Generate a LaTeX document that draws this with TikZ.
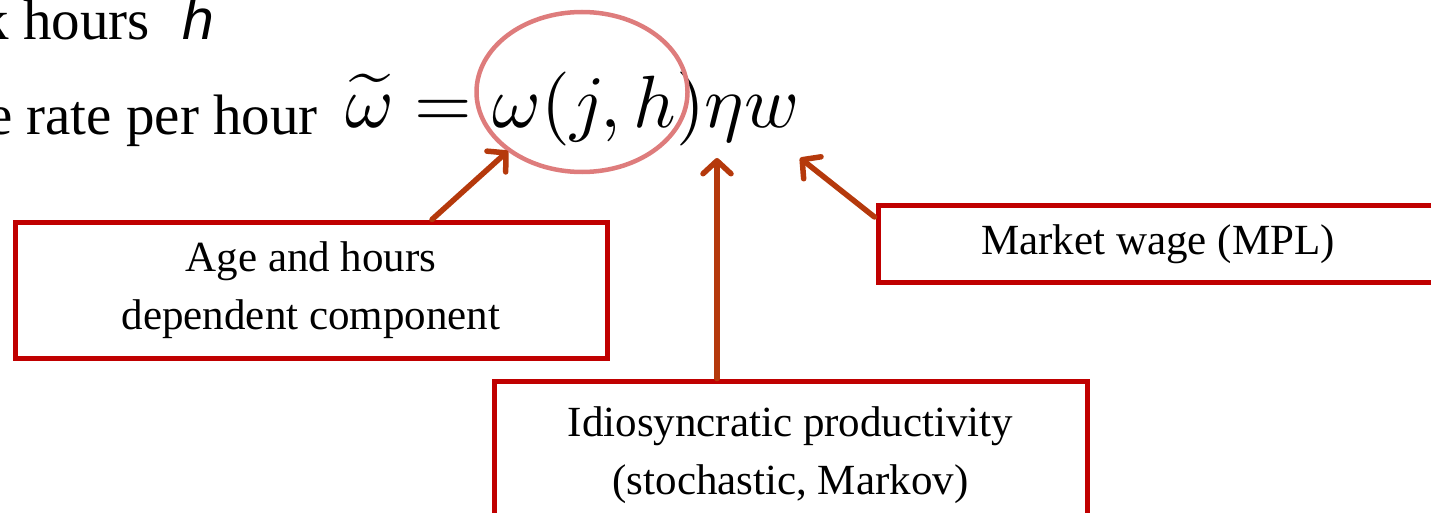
\documentclass[tikz,border=0pt]{standalone}
\usepackage{fontspec}
\setmainfont{Liberation Serif}
\newfontfamily\sansit{Liberation Sans}
\usepackage{graphicx}
\usetikzlibrary{arrows.meta,shapes.geometric}
\definecolor{boxred}{HTML}{C00000}
\definecolor{arrred}{HTML}{B5390C}
\definecolor{ellred}{HTML}{DE7C7C}
\tikzset{
  labelbox/.style={draw=boxred, line width=5pt, inner sep=0pt, align=center,
    font=\fontsize{43}{58}\selectfont},
  arr/.style={draw=arrred, line width=5.5pt, line cap=round,
    -{Straight Barb[length=13pt,width=28pt,line cap=round,line join=round]}},
  lefttext/.style={inner sep=0pt, font=\fontsize{57}{68}\selectfont}
}
\begin{document}
\begin{tikzpicture}[x=1pt,y=-1pt]
\useasboundingbox (0,0) rectangle (1431,513);
\begin{scope}
\clip (0,0) rectangle (1431,513);
% left text
\node[lefttext, anchor=base east] (t1) at (150,40) {k hours};
\node[inner sep=0pt, anchor=base west, font=\fontsize{57}{68}\sansit\itshape] (th) at (182,40) {h};
\node[lefttext, anchor=base east] (t2) at (318,135) {e rate per hour};
% formula
\node[inner sep=0pt, anchor=base west] (f) at (345,128) {\scalebox{7.4}{$\widetilde{\omega}=\omega(j,h)\eta w$}};
% ellipse
\node[ellipse, draw=ellred, line width=4.5pt, minimum width=211pt, minimum height=160pt, inner sep=0pt] (e) at (582,92) {};
% boxes
\node[labelbox, minimum width=592pt, minimum height=136pt] (b1) at (311,290) {Age and hours\\dependent component};
\node[labelbox, minimum width=560pt, minimum height=77pt] (b2) at (1158,244) {Market wage (MPL)};
\node[labelbox, minimum width=593pt, minimum height=149pt] (b3) at (790.5,455.5) {Idiosyncratic productivity\\(stochastic, Markov)};
% arrow targets
\coordinate (p1) at (508,151);
\coordinate (p2) at (717,158);
\coordinate (p3) at (800,158);
\draw[arr] (b1.north -| 432,0) -- (p1);
\draw[arr] (b3.north -| 717,0) -- (p2);
\draw[arr] ([xshift=-1pt,yshift=-14pt]b2.north west) -- (p3);
\end{scope}
\end{tikzpicture}
\end{document}
